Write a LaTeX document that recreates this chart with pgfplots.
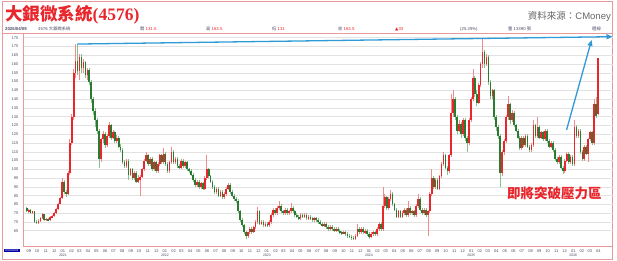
\documentclass[border=0pt]{standalone}
\usepackage{fontspec}
\setmainfont{Liberation Sans}
\newfontfamily\cjk{Noto Sans CJK TC}
\newfontfamily\serifnum{Liberation Serif}
\newfontfamily\dejavu{DejaVu Sans}
\usepackage{pgfplots}
\pgfplotsset{compat=1.18}
\usepackage{pgfplotstable}
\usetikzlibrary{arrows.meta}
\definecolor{upred}{HTML}{E8262B}
\definecolor{dngreen}{HTML}{2A7A32}
\definecolor{wickred}{HTML}{F08C8C}
\definecolor{wickgreen}{HTML}{86C08A}
\definecolor{framec}{HTML}{E89A9A}
\definecolor{gridc}{HTML}{E2E2E2}
\definecolor{labc}{HTML}{4A4E66}
\definecolor{arrowblue}{HTML}{2E9AD6}
\pgfplotstableread{
i o h l c
0 78 78.5 75.5 76
1 76 77.5 75 76.8
2 76.8 77.2 74.5 75.2
3 75.2 76.5 74.5 76
4 76 76.5 69.5 70.2
5 70.2 71 68.8 69.6
6 69.6 71.5 69 70.8
7 70.8 73 70.2 72.4
8 72.4 75 71.8 74.3
9 74.3 74.8 70.5 71.2
10 71.2 72.5 70.6 71.8
11 71.8 72.2 70.4 71
12 71 73.2 70.6 72.6
13 72.6 74 72 73.4
14 73.4 75.8 73 75.2
15 75.2 78 74.8 77.4
16 77.4 81 77 80.4
17 80.4 84.5 80 83.6
18 83.6 95 83 92.5
19 92.5 94 86 87.2
20 87.2 88.5 84.5 86
21 86 99 85.5 98
22 98 117 97 115
23 115 131.5 114 130
24 130 157 128 155
25 155 171.5 152 162
26 162 171 154 156
27 156 166 151 164
28 164 166 155 158
29 158 163 155 161
30 161 162 152 154
31 154 158 151 156.5
32 156.5 157.5 148 150
33 150 151 138 140
34 140 141 131 133
35 133 135 124 128
36 128 129 120 122
37 122 123 101 106
38 106 118 104 117
39 117 122 115 120
40 120 121 112 114
41 114 120 113 119
42 119 127 118 125
43 125 126 116.5 118
44 118 122.5 117 121
45 121 122 115 116
46 116 119.5 115 118
47 118 119 112 113
48 113 114.5 110 111
49 111 112 103 104
50 104 105.5 101 102
51 102 106 101 105
52 105 106 94 97
53 97 101 96 100
54 100 101 94 95
55 95 99 94 98
56 98 99 92 93
57 93 97 92 95
58 94 96.5 85 95.5
59 95.5 101 95 100
60 100 106 99 105
61 105 110 104 108
62 108 109 102 103
63 103 107 102 106
64 106 107 99 100
65 100 105 99 104
66 104 105 98 99
67 99 104 98 103
68 103 109 102 108
69 108 109 103 104
70 104 112 103 109
71 109 110 102 103
72 103 104 98 99
73 99 105 98 104
74 104 113 103 110
75 110 111 103 104
76 104 107 103 106
77 106 107 101 102
78 102 103 100 101
79 101 106 100 105
80 105 106 101 102
81 102 105 101 104
82 104 105 99 100
83 100 101 98 99
84 99 100 96 97
85 97 98 93 94
86 94 95 90 91
87 91 94 90 93
88 93 94 89 90
89 90 93 89 92
90 92 93 88 89
91 89 96 88 95
92 95 108 94 100
93 100 101 95 96
94 96 97 92 93
95 93 94 89 90
96 90 91 86 87
97 87 90 86 89
98 89 90 84 85
99 85 88 84 87
100 87 88 83 84
101 84 87 83 86
102 86 90 85 89
103 89 92 88 91
104 91 92 86 87
105 87 88 84 85
106 85 86 82 83
107 83 84 81 82
108 82 83 75 76
109 76 77 70 71
110 71 72 67 68
111 68 69 63 64
112 64 65 60.5 62
113 62 64.5 61 64
114 64 67 63 66
115 66 67 63 64
116 64 67.5 63.5 67
117 67 71 66 70
118 70 78.5 69 76
119 76 77 68 69
120 69 71 68 70
121 70 71 67 68
122 68 70 67 69
123 69 70 67 68
124 68 71 67 70
125 70 75 69 74
126 74 78 73 77
127 77 78 74 75
128 75 79 74 78
129 78 82 77 79
130 79 80 75 76
131 76 77 74 75
132 75 78 74 77
133 77 78 74 75
134 75 77 74 76
135 76 81 75 78
136 78 79 75 76
137 76 77 73 74
138 74 75 72 73
139 73 74 71 72
140 72 75 71 74
141 74 75 72 73
142 73 75 72 74
143 74 75 71 72
144 72 74 71 73
145 73 74 71 72
146 72 73 70 71
147 71 73 70 72
148 72 73 70 71
149 71 72 69 70
150 70 71 68 69
151 69 70 67 68
152 68 70 67 69
153 69 70 66 67
154 67 68 65 66
155 66 68 65 67
156 67 68 65 66
157 66 67 64 65
158 65 67 64 66
159 66 67 64 65
160 65 66 63 64
161 64 65 62.5 63.5
162 63.5 65 63 64
163 64 65 62 63
164 63 64 61 62
165 62 63 61 61.5
166 61.5 62.5 60 61
167 61 62 59.5 60.5
168 60.5 63 60 62
169 62 69 61.5 66
170 66 67 63 64
171 64 67 63 66
172 66 67 63 64
173 64 66 63 65
174 65 66 62 63
175 63 64 60.5 61.5
176 61.5 64 61 63
177 63 65 62 64
178 64 65 62 63
179 63 67 62 66
180 66 70 65 69
181 69 70 65 66
182 66 90 65 79
183 79 86 78 84
184 84 85 77 78
185 78 84 77 83
186 83 88 82 86
187 86 87 79 80
188 80 81 76 77
189 77 78 72 73
190 73 77 72 76
191 76 77 72 73
192 73 76 72 75
193 75 78 74 77
194 77 78 73 74
195 74 82 73 78
196 78 79 74 75
197 75 77 74 76
198 76 77 73 74
199 74 80 73 79
200 79 86 78 83
201 83 84 76 77
202 77 78 74 75
203 75 78 74 77
204 77 78 73 74
205 74 77 62 76
206 76 87 75 86
207 86 100 85 95
208 95 96 89 90
209 90 95 89 94
210 94 95 88 89
211 89 97 88 96
212 96 104 95 103
213 103 110 102 108
214 108 109 100 101
215 101 102 97 99
216 99 109 98 108
217 108 143 107 132
218 132 145 130 140
219 140 141 128 130
220 130 131 120 122
221 122 128 121 126
222 126 127 118 120
223 120 129 119 128
224 128 129 116 118
225 118 119 110 115
226 115 129 114 128
227 128 141 127 140
228 140 157 139 152
229 152 153 141 143
230 143 145 136 138
231 138 149 137 148
232 148 161 147 160
233 160 174 158 167
234 167 168 158 160
235 160 166 159 164
236 164 165 148 150
237 150 151 140 142
238 142 146 140 145
239 145 146 128 130
240 130 131 122 124
241 124 125 117 119
242 119 120 90 98
243 98 111 96 110
244 110 117 108 116
245 116 131 115 130
246 130 142 128 137
247 137 138 126 128
248 128 134 127 132
249 132 133 124 125
250 125 126 121 122
251 122 123 117 118
252 118 119 111 112
253 112 119 111 118
254 118 119 113 114
255 114 120 113 119
256 119 120 112 113
257 113 114 110 111
258 111 115 110 114
259 114 128 113 125
260 125 126 118 119
261 119 130 118 124
262 124 125 117 118
263 118 122 117 121
264 121 122 116 117
265 117 123 116 122
266 122 123 115 116
267 116 117 112 113
268 113 116 112 115
269 115 116 110 111
270 111 112 105 106
271 106 107 103 104
272 104 108 103 107
273 107 108 100 101
274 101 102 97.5 99
275 99 106 98 105
276 105 110 104 109
277 109 110 103 104
278 104 108 103 107
279 107 108 102 103
280 103 128 102 124
281 124 125 118 119
282 119 123 118 122
283 122 123 109 110
284 110 111 105 106
285 106 114 105 113
286 113 114 108 109
287 109 118 104 117
288 117 122 116 121
289 121 122 114 115
290 115 140 114 137
291 137 141 129 130.5
292 131.5 163.5 131 163.5
}\ohlc
\pgfplotsset{
  candle/.style 2 args={draw=none, mark=none, forget plot,
    error bars/.cd, y dir=both, y explicit, error mark=none,
    error bar style={draw=#1, line width=#2, solid}, /pgfplots/.cd},
}
\begin{document}
\begin{tikzpicture}
\path[use as bounding box] (0pt,0pt) rectangle (617pt,261pt);
\draw[framec, line width=0.9pt] (2pt,2pt) rectangle (612.5pt,260pt);
\draw[framec, line width=0.9pt] (2pt,228pt) -- (612.5pt,228pt);
% title
\node[anchor=west, inner sep=0pt, text=upred, font=\fontsize{17.5}{18}\selectfont] at (5pt,246pt) {{\cjk\bfseries 大銀微系統}{\serifnum\bfseries (4576)}};
\node[anchor=east, inner sep=0pt, text=black!60, font=\fontsize{9.5}{10}\selectfont] at (611pt,245pt) {{\cjk 資料來源：}CMoney};
% header row
\begin{scope}[every node/.style={anchor=west, inner sep=0pt, font=\fontsize{4.3}{5}\selectfont, text=labc}]
\node at (5pt,232pt) {\bfseries 2026/04/09};
\node at (38pt,232pt) {4576 {\cjk 大銀微系統}};
\node at (140pt,232pt) {{\cjk 開} \textcolor{upred}{131.5}};
\node at (206pt,232pt) {{\cjk 高} \textcolor{upred}{163.5}};
\node at (272pt,232pt) {{\cjk 低} \textcolor{upred}{131}};
\node at (338pt,232pt) {{\cjk 收} \textcolor{upred}{163.5}};
\node at (395pt,232pt) {\textcolor{upred}{{\dejavu ▲}33}};
\node at (460pt,232pt) {(25.29\%)};
\node at (508pt,232pt) {{\cjk 量} 13390 {\cjk 張}};
\node at (592pt,232pt) {{\cjk 週線}};
\end{scope}
% bottom-left blue box
\fill[blue!65!black] (4pt,8.5pt) rectangle (19.5pt,12pt);
\node[inner sep=0pt, text=white, font=\fontsize{2.6}{3}\selectfont] at (11.75pt,10.25pt) {2020/09/04};
\begin{axis}[
  at={(23pt,15pt)}, anchor=south west, scale only axis,
  width=589.5pt, height=213pt,
  xmin=-1.9, xmax=299.4, ymin=56.3, ymax=177.7,
  axis x line*=bottom, axis y line*=left,
  axis line style={-, draw=framec, line width=0.9pt},
  ytick={65,70,...,175},
  ymajorgrids, major grid style={draw=gridc, line width=0.5pt},
  ytick style={draw=none},
  xtick={1.07,5.36,9.79,14.07,18.5,22.93,26.93,31.36,35.64,40.07,44.36,48.79,53.21,57.5,61.93,66.21,70.64,75.07,79.07,83.5,87.79,92.21,96.5,100.93,105.36,109.64,114.07,118.36,122.79,127.21,131.21,135.64,139.93,144.36,148.64,153.07,157.5,161.79,166.21,170.5,174.93,179.36,183.5,187.93,192.21,196.64,200.93,205.36,209.79,214.07,218.5,222.79,227.21,231.64,235.64,240.07,244.36,248.79,253.07,257.5,261.93,266.21,270.64,274.93,279.36,283.79,287.79,292.21},
  xticklabels={09,10,11,12,01,02,03,04,05,06,07,08,09,10,11,12,01,02,03,04,05,06,07,08,09,10,11,12,01,02,03,04,05,06,07,08,09,10,11,12,01,02,03,04,05,06,07,08,09,10,11,12,01,02,03,04,05,06,07,08,09,10,11,12,01,02,03,04},
  xtick style={draw=framec, line width=0.4pt},
  tick align=outside, major tick length=1.2pt,
  tick label style={font=\fontsize{4}{4.5}\selectfont, text=labc},
  xticklabel style={yshift=0.8pt},
  /pgf/number format/assume math mode=true,
  clip=false,
]
% wicks
\addplot[restrict expr to domain={\thisrow{c}-\thisrow{o}}{0:1000},
  candle={wickred}{0.55pt}]
  table[x=i, y expr={(\thisrow{h}+\thisrow{l})/2}, y error expr={(\thisrow{h}-\thisrow{l})/2}] {\ohlc};
\addplot[restrict expr to domain={\thisrow{c}-\thisrow{o}}{-1000:-0.0001},
  candle={wickgreen}{0.55pt}]
  table[x=i, y expr={(\thisrow{h}+\thisrow{l})/2}, y error expr={(\thisrow{h}-\thisrow{l})/2}] {\ohlc};
% bodies
\addplot[restrict expr to domain={\thisrow{c}-\thisrow{o}}{0:1000},
  candle={upred}{1.7pt}]
  table[x=i, y expr={(\thisrow{o}+\thisrow{c})/2}, y error expr={abs(\thisrow{c}-\thisrow{o})/2}] {\ohlc};
\addplot[restrict expr to domain={\thisrow{c}-\thisrow{o}}{-1000:-0.0001},
  candle={dngreen}{1.7pt}]
  table[x=i, y expr={(\thisrow{o}+\thisrow{c})/2}, y error expr={abs(\thisrow{c}-\thisrow{o})/2}] {\ohlc};
% year labels
\foreach \p/\yr in {18.5/2021,70.64/2022,122.79/2023,174.93/2024,227.21/2025,279.36/2026}{
  \edef\tmp{\noexpand\node[inner sep=0pt, font=\noexpand\fontsize{3.5}{4}\noexpand\selectfont, text=labc] at (axis cs:\p,56.3) [yshift=-9.6pt] {\yr};}\tmp
}
% annotations
\draw[arrowblue, line width=1.3pt, -{Triangle[length=6pt,width=5pt]}] (axis cs:25.8,171.4) -- (axis cs:299.4,175.6);
\draw[arrowblue, line width=1.3pt, -{Triangle[length=6pt,width=5pt]}] (axis cs:275.9,122.4) -- (axis cs:288.7,173.7);
\node[text=upred, inner sep=0pt, font=\fontsize{13.5}{14}\selectfont] at (axis cs:269.7,86.5) {\cjk\bfseries 即將突破壓力區};
\end{axis}
\end{tikzpicture}
\end{document}
